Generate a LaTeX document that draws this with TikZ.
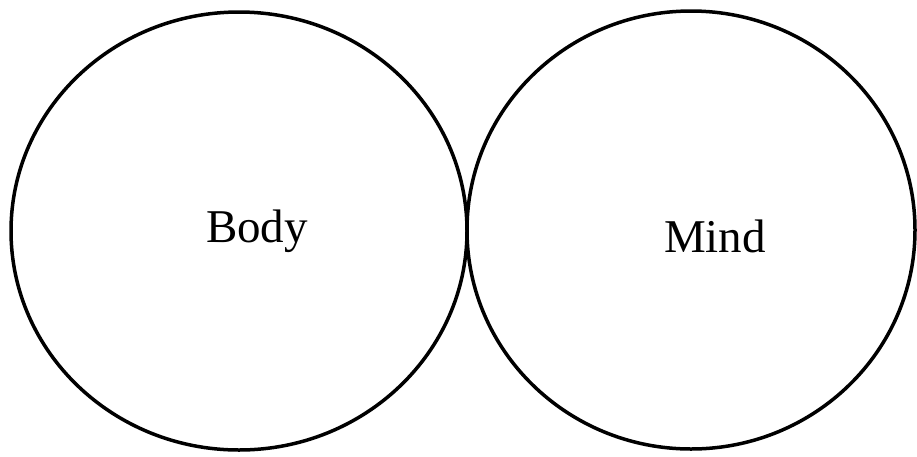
\documentclass[tikz,border=0pt]{standalone}
\usepackage{fontspec}
\setmainfont{Liberation Serif}
\usetikzlibrary{shapes.geometric}
\begin{document}
\begin{tikzpicture}[x=1pt,y=-1pt,
  ring/.style={draw=black,line width=3.5pt,ellipse,inner sep=0pt},
  lbl/.style={font=\fontsize{47}{50}\selectfont,anchor=base,inner sep=0pt}]
\useasboundingbox (0,0) rectangle (917,456);
\node[ring,minimum width=456pt,minimum height=438pt] (body) at (239,231) {};
\node[ring,minimum width=448pt,minimum height=438pt] (mind) at (691,230) {};
\node[lbl] (bodyt) at (257,242) {Body};
\node[lbl] (mindt) at (715,252) {Mind};
\end{tikzpicture}
\end{document}
